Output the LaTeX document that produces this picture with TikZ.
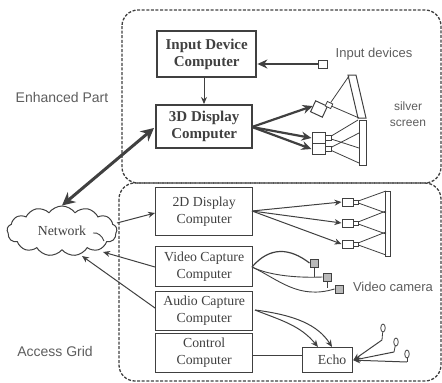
\documentclass[tikz,border=0pt]{standalone}
\usepackage{fontspec}
\setmainfont{Liberation Serif}
\newfontfamily\lblfont{Liberation Sans}
\usetikzlibrary{arrows.meta,shapes.symbols,shapes.geometric}
\definecolor{ink}{gray}{0.25}
\tikzset{
  x=1pt,y=-1pt,
  region/.style={draw=ink,dashed,dash pattern=on 3pt off 1.6pt,line width=1.3pt,rounded corners=16pt},
  thickbox/.style={draw=ink,line width=2.4pt,anchor=north west,align=center,inner sep=0pt,font=\fontsize{15}{17}\selectfont\bfseries,text=ink},
  thinbox/.style={draw=ink,line width=1.3pt,anchor=north west,align=center,inner sep=0pt,font=\fontsize{13.8}{17}\selectfont,text=ink},
  lbl/.style={font=\lblfont\fontsize{13}{16}\selectfont,text=ink!85,align=center,inner sep=0pt,draw=none},
  lblbig/.style={lbl,font=\lblfont\fontsize{14}{16}\selectfont},
  link/.style={draw=ink,line width=1pt,-{Stealth[length=7pt,width=6pt]}},
  boldlink/.style={draw=ink,line width=2.2pt,-{Stealth[length=10pt,width=9pt]}},
  bothlink/.style={draw=ink,line width=3pt,{Stealth[length=13pt,width=13pt]}-{Stealth[length=13pt,width=13pt]}},
  ray/.style={draw=ink,line width=0.8pt},
  proj/.style={draw=ink,fill=white,line width=1pt,minimum width=11pt,minimum height=8pt,inner sep=0pt},
  lens/.style={draw=ink,fill=white,line width=0.8pt,minimum width=6pt,minimum height=5pt,inner sep=0pt},
  cam/.style={draw=ink,fill=gray!55,line width=1pt,minimum width=8pt,minimum height=8pt,inner sep=0pt},
  mic/.style={draw=ink,fill=white,ellipse,line width=0.8pt,minimum width=4.5pt,minimum height=8pt,inner sep=0pt},
}
\begin{document}
\begin{tikzpicture}
\useasboundingbox (0,0) rectangle (442,383);
% regions
\draw[region] (122,10) rectangle (441,183);
\draw[region] (119,183) rectangle (441,381);
% boxes
\node[thickbox,minimum width=99pt,minimum height=46pt] (idc) at (156,30) {Input Device\\Computer};
\node[thickbox,minimum width=96pt,minimum height=43pt] (ddd) at (155,104) {3D Display\\Computer};
\node[thinbox,minimum width=97pt,minimum height=48pt] (dd) at (155,187) {2D Display\\Computer};
\node[thinbox,minimum width=97pt,minimum height=40pt] (vc) at (155,246) {Video Capture\\Computer};
\node[thinbox,minimum width=97pt,minimum height=39pt] (ac) at (155,291) {Audio Capture\\Computer};
\node[thinbox,minimum width=97pt,minimum height=39pt] (cc) at (155,333) {Control\\Computer};
\node[thinbox,minimum width=50pt,minimum height=25pt] (echo) at (302,347) {\hspace{9pt}Echo};
% cloud
\node[cloud,draw=ink,line width=1pt,cloud puffs=13,cloud puff arc=110,aspect=2.2,minimum width=110pt,minimum height=50pt,inner sep=0pt,font=\fontsize{13.8}{16}\selectfont,text=ink] (net) at (62,231) {Network};
\coordinate (fa) at (93,233);
\coordinate (fb) at (104,241);
\draw[ray,line width=0.9pt] (fa) .. controls (98,232) and (102,236) .. (fb);
% input device
\node[draw=ink,fill=white,line width=1pt,minimum width=9pt,minimum height=8pt,inner sep=0pt] (idev) at (323,64) {};
\draw[boldlink] (idev) -- (idc.east |- idev);
\draw[link] (idc.south -| 204,0) -- (ddd.north -| 204,0);
\coordinate (d3w) at (154,128);
\draw[bothlink] (d3w) -- (net.north);
% silver screen
\coordinate (st) at (349,76);
\coordinate (sm) at (359,118);
\coordinate (sb) at (359,163);
\draw[draw=ink,fill=white,line width=1pt] (348,75) -- (356,75) -- (366,118) -- (358,118) -- cycle;
\draw[draw=ink,fill=white,line width=1pt] (359,120) rectangle (366,165);
% top projectors
\node[proj,minimum width=13pt,minimum height=12pt,rotate=-25] (p1) at (319,109) {};
\node[lens,rotate=-25] (l1) at (329,105) {};
\node[proj,minimum width=13pt,minimum height=11pt] (p2) at (318.5,138) {};
\node[lens] (l2) at (328,138) {};
\node[proj,minimum width=13pt,minimum height=11pt] (p3) at (318.5,149) {};
\node[lens] (l3) at (328,149) {};
\draw[ray] (l1) -- (st);
\draw[ray] (l1) -- (sm);
\draw[ray] (l2) -- (358,120);
\draw[ray] (l2) -- (359,148);
\draw[ray] (l3) -- (359,133);
\draw[ray] (l3) -- (sb);
\coordinate (d3) at (252,127);
\draw[boldlink] (d3) -- (p1.west);
\draw[boldlink] (d3) -- (p2.west);
\draw[boldlink] (d3) -- (p3.west);
% 2D screen
\node[draw=ink,fill=white,line width=1pt,minimum width=4.5pt,minimum height=65pt,inner sep=0pt] (scr) at (388,223.5) {};
\foreach \n/\y in {a/202,b/223,c/244}{
  \node[proj] (q\n) at (347.5,\y) {};
  \node[lens,minimum width=5pt,minimum height=4pt] (r\n) at (355.5,\y) {};
}
\draw[ray] (ra) -- (386,191);
\draw[ray] (ra) -- (386,213);
\draw[ray] (rb) -- (386,211);
\draw[ray] (rb) -- (386,234);
\draw[ray] (rc) -- (386,232);
\draw[ray] (rc) -- (386,255);
\coordinate (d2) at (252,211);
\draw[link] (d2) -- (qa.west);
\draw[link] (d2) -- (qb.west);
\draw[link] (d2) -- (qc.west);
% net links
\coordinate (ne) at (117,223);
\draw[link] (ne) -- (dd.west |- 0,213);
\coordinate (vo) at (155,267);
\coordinate (ao) at (155,308);
\coordinate (na) at (103,252);
\coordinate (nb) at (82,256);
\draw[link] (vo) -- (na);
\draw[link] (ao) -- (nb);
% cameras
\node[cam] (c1) at (314,263) {};
\node[cam] (c2) at (327,277) {};
\node[cam] (c3) at (339,289) {};
\coordinate (vs) at (252,267);
\draw[ray,line width=1.2pt] (vs) .. controls (270,246) and (290,248) .. (c1.west);
\draw[ray,line width=0.9pt] (vs) .. controls (270,276) and (300,278) .. (c2.west);
\draw[ray,line width=0.9pt] (vs) .. controls (278,279) and (298,300) .. (c3.west);
\draw[ray] (c1.south) -- (314,277);
\draw[ray] (c2.south) -- (327,288);
% audio to echo
\coordinate (as) at (255,310);
\coordinate (e1) at (318,347);
\coordinate (e2) at (332,347);
\draw[link] (as) .. controls (280,320) and (300,325) .. (e1);
\draw[link] (as) .. controls (295,315) and (318,325) .. (e2);
\draw[ray,line width=1pt] (cc.east |- 0,355) -- (echo.west |- 0,355);
% mics
\node[mic] (m1) at (383,328) {};
\node[mic] (m2) at (396,342) {};
\node[mic] (m3) at (407,354) {};
\coordinate (m1b) at (382,340);
\coordinate (m2b) at (394,352);
\coordinate (m3b) at (407,362);
\draw[ray] (m1) -- (m1b);
\draw[ray] (m2) -- (m2b);
\draw[ray] (m3) -- (m3b);
\draw[link] (m1b) -- (echo.east);
\draw[link] (m2b) -- (echo.east);
\draw[link] (m3b) -- (echo.east);
% labels
\node[lbl] (t1) at (374,54) {Input devices};
\node[lbl,font=\lblfont\fontsize{12}{16}\selectfont] (t2) at (408,114) {silver\\screen};
\node[lblbig] (t3) at (62,97) {Enhanced Part};
\node[lblbig] (t4) at (55,351) {Access Grid};
\node[lbl] (t5) at (393,287) {Video camera};
\end{tikzpicture}
\end{document}
